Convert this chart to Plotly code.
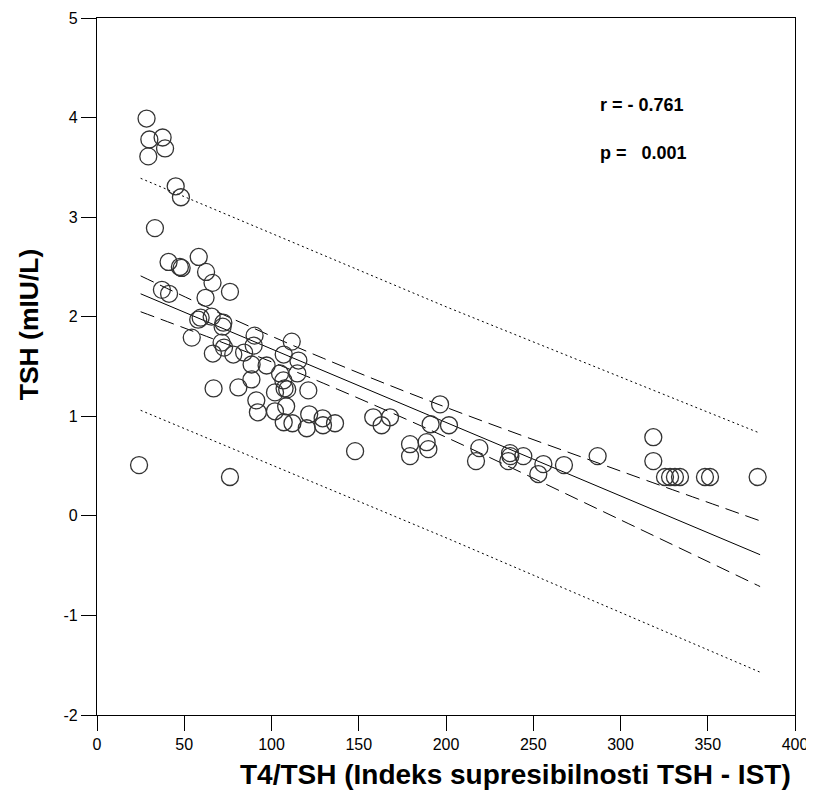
import plotly.graph_objects as go

# Scatter data: T4/TSH (x) and TSH (y)
x_vals = [28.4, 30.0, 37.6, 39.0, 29.4, 45.1, 48.1, 33.2, 41.0, 47.5,
          48.5, 58.3, 62.5, 66.2, 76.2, 37.2, 41.3, 62.2, 58.0, 59.4,
          65.7, 72.4, 72.0, 54.3, 90.3, 89.8, 71.4, 72.8, 66.4, 78.1,
          84.3, 111.6, 107.0, 115.4, 88.6, 97.2, 104.9, 114.8, 88.5, 106.8,
          107.5, 102.0, 109.0, 121.1, 66.8, 81.0, 91.3, 92.2, 102.0, 108.4,
          107.0, 112.0, 121.6, 120.2, 129.3, 129.5, 136.4, 158.3, 163.1, 167.9,
          147.9, 24.1, 76.2, 196.6, 191.2, 201.7, 179.4, 179.4, 188.9, 189.9,
          219.1, 217.2, 236.7, 236.9, 235.7, 244.3, 255.8, 252.9, 267.6, 286.9,
          318.8, 318.8, 325.5, 328.4, 331.2, 334.1, 348.4, 351.3, 378.6]
y_vals = [3.99, 3.78, 3.80, 3.69, 3.61, 3.31, 3.20, 2.89, 2.55, 2.50,
          2.49, 2.60, 2.45, 2.34, 2.25, 2.27, 2.23, 2.19, 1.97, 1.99,
          2.00, 1.94, 1.90, 1.79, 1.81, 1.71, 1.74, 1.69, 1.63, 1.62,
          1.64, 1.75, 1.62, 1.56, 1.52, 1.51, 1.43, 1.43, 1.37, 1.36,
          1.28, 1.24, 1.27, 1.26, 1.28, 1.29, 1.16, 1.04, 1.05, 1.10,
          0.94, 0.93, 1.02, 0.88, 0.98, 0.91, 0.93, 0.99, 0.91, 0.99,
          0.65, 0.51, 0.39, 1.12, 0.92, 0.91, 0.72, 0.60, 0.74, 0.67,
          0.68, 0.55, 0.63, 0.60, 0.55, 0.60, 0.52, 0.42, 0.51, 0.60,
          0.79, 0.55, 0.39, 0.39, 0.39, 0.39, 0.39, 0.39, 0.39]

# Regression line, 95% confidence band, 95% prediction band
line_x = [25, 75, 130, 200, 300, 380]
fit_y = [2.23, 1.86, 1.46, 0.94, 0.20, -0.39]
conf_upper = [2.41, 2.00, 1.58, 1.09, 0.45, -0.05]
conf_lower = [2.05, 1.72, 1.33, 0.79, -0.04, -0.71]
pred_x = [25, 200, 380]
pred_upper = [3.39, 2.10, 0.83]
pred_lower = [1.06, -0.22, -1.57]

x_ticks = [0, 50, 100, 150, 200, 250, 300, 350, 400]
y_ticks = [-2, -1, 0, 1, 2, 3, 4, 5]
y_ticktext = ["-2", "-1", "0", "1", "2", "3", "4", "5"]

stats_text = ["r = - 0.761", "p =   0.001"]

fig = go.Figure()

fig.add_trace(go.Scatter(x=pred_x, y=pred_upper, mode="lines",
                         line=dict(color="black", width=1, dash="2px,3px"),
                         showlegend=False, hoverinfo="skip"))
fig.add_trace(go.Scatter(x=pred_x, y=pred_lower, mode="lines",
                         line=dict(color="black", width=1, dash="2px,3px"),
                         showlegend=False, hoverinfo="skip"))
fig.add_trace(go.Scatter(x=line_x, y=conf_upper, mode="lines", line_shape="spline",
                         line=dict(color="black", width=1, dash="14px,7px"),
                         showlegend=False, hoverinfo="skip"))
fig.add_trace(go.Scatter(x=line_x, y=conf_lower, mode="lines", line_shape="spline",
                         line=dict(color="black", width=1, dash="14px,7px"),
                         showlegend=False, hoverinfo="skip"))
fig.add_trace(go.Scatter(x=line_x, y=fit_y, mode="lines",
                         line=dict(color="black", width=1),
                         showlegend=False, hoverinfo="skip"))

fig.add_trace(go.Scatter(x=x_vals, y=y_vals, mode="markers",
                         marker=dict(symbol="circle-open", size=17,
                                     color="#333333", line=dict(width=1.3, color="#333333")),
                         showlegend=False))

fig.update_layout(
    width=806, height=799,
    margin=dict(l=89, r=19, t=10, b=92),
    plot_bgcolor="white", paper_bgcolor="white",
    font=dict(family="Liberation Sans, Arial, sans-serif", color="black"),
    xaxis=dict(range=[0, 400], tickvals=x_ticks, ticks="outside", ticklen=15,
               tickwidth=1, tickcolor="black", showline=True, linecolor="black",
               linewidth=1.3, mirror=True, showgrid=False, zeroline=False,
               tickfont=dict(size=16), automargin=False),
    yaxis=dict(range=[-2, 5], tickvals=y_ticks, ticktext=y_ticktext, ticks="outside", ticklen=15,
               tickwidth=1, tickcolor="black", showline=True, linecolor="black",
               linewidth=1.3, mirror=True, showgrid=False, zeroline=False,
               tickfont=dict(size=16), automargin=False),
    annotations=[
        dict(text="<b>T4/TSH (Indeks supresibilnosti TSH - IST)</b>", xref="paper", yref="paper",
             x=0.599, y=-0.086, xanchor="center", yanchor="middle", showarrow=False,
             font=dict(size=28)),
        dict(text="<b>TSH (mIU/L)</b>", xref="paper", yref="paper",
             x=-0.097, y=0.561, xanchor="center", yanchor="middle", textangle=-90,
             showarrow=False, font=dict(size=26.5)),
        dict(text="<b>" + stats_text[0] + "</b>", xref="x", yref="y", x=287, y=4.13,
             xanchor="left", yanchor="middle", showarrow=False, font=dict(size=18)),
        dict(text="<b>" + stats_text[1].replace(" ", "&nbsp;") + "</b>", xref="x", yref="y", x=287, y=3.64,
             xanchor="left", yanchor="middle", showarrow=False, font=dict(size=18)),
    ],
)

fig.write_html("out.html")
